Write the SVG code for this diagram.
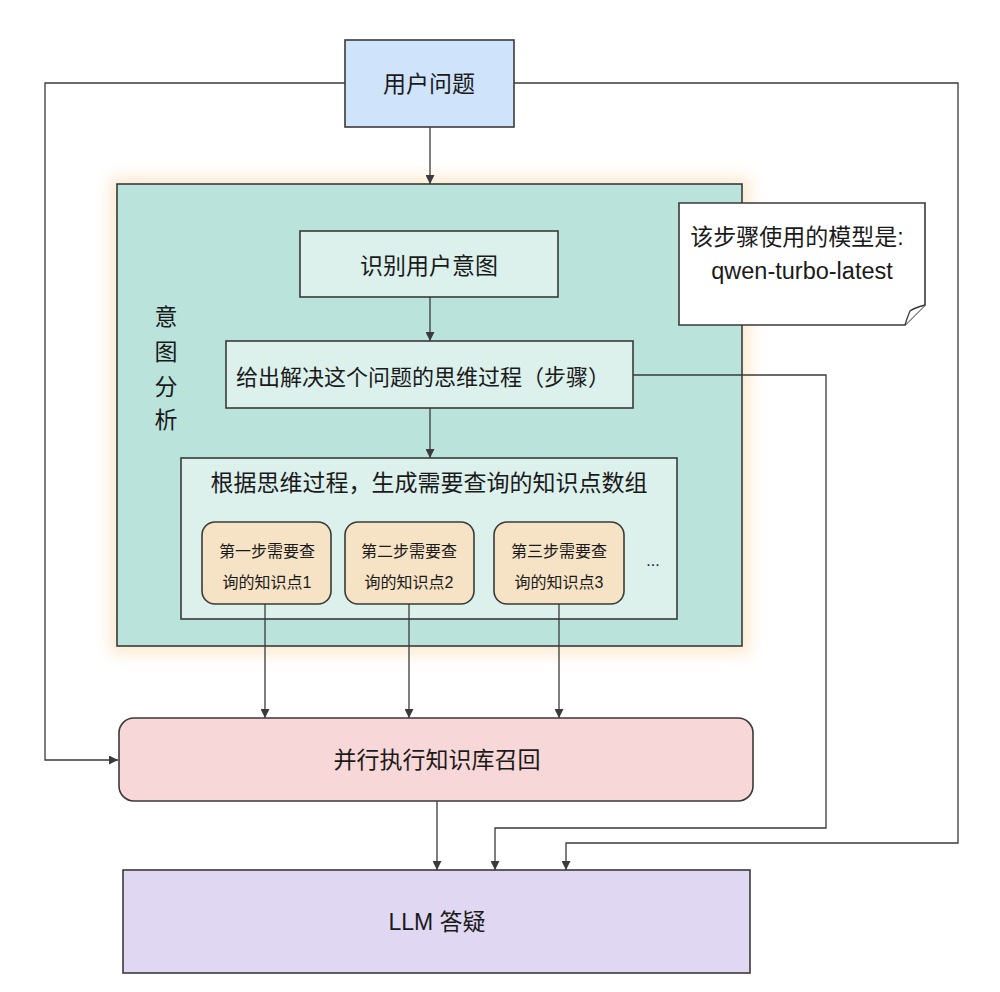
<svg xmlns="http://www.w3.org/2000/svg" width="1000" height="992" viewBox="0 0 1000 992">
<defs>
<style>
.box{stroke:#3a3a3a;stroke-width:1.6}
.t{font-family:"Liberation Sans","Noto Sans CJK SC",sans-serif;fill:#1a1a1a;text-anchor:middle;dominant-baseline:central}
.t23{font-size:23px}
.t16{font-size:16px}
.conn{fill:none;stroke:#3a3a3a;stroke-width:1.3}
</style>
<marker id="arr" viewBox="0 0 10 10" refX="10" refY="5" markerWidth="10" markerHeight="9" markerUnits="userSpaceOnUse" orient="auto">
<path d="M0,0 L10,5 L0,10 Z" fill="#3a3a3a"/>
</marker>
<filter id="glow" x="-10%" y="-10%" width="120%" height="120%">
<feGaussianBlur stdDeviation="8"/>
</filter>
</defs>
<rect width="1000" height="992" fill="#ffffff"/>

<g id="intent-group">
<rect x="110" y="177" width="640" height="477" fill="#fbe4c4" opacity="0.8" filter="url(#glow)"/>
<rect class="box" x="117" y="184" width="625" height="462" fill="#bae3dc"/>
<text class="t t23" x="166" y="317">意</text>
<text class="t t23" x="166" y="352">图</text>
<text class="t t23" x="166" y="387">分</text>
<text class="t t23" x="166" y="420">析</text>
</g>

<g id="user-question">
<rect class="box" x="345" y="40" width="169" height="87" fill="#cfe3fa"/>
<text class="t t23" x="429" y="84">用户问题</text>
</g>

<g id="identify-intent">
<rect class="box" x="300" y="231" width="258" height="66" fill="#dcf0ec"/>
<text class="t t23" x="429" y="266">识别用户意图</text>
</g>

<g id="thinking-steps">
<rect class="box" x="226" y="341" width="407" height="67" fill="#dcf0ec"/>
<text class="t" x="423" y="377" font-size="22">给出解决这个问题的思维过程（步骤）</text>
</g>

<g id="knowledge-array">
<rect class="box" x="181" y="458" width="496" height="161" fill="#dcf0ec"/>
<text class="t t23" x="429" y="483">根据思维过程，生成需要查询的知识点数组</text>
</g>

<g id="step1">
<rect class="box" x="202" y="522" width="129" height="82" rx="13" fill="#f6e2c4"/>
<text class="t t16" x="267" y="551">第一步需要查</text>
<text class="t t16" x="267" y="582">询的知识点1</text>
</g>
<g id="step2">
<rect class="box" x="345" y="522" width="129" height="82" rx="13" fill="#f6e2c4"/>
<text class="t t16" x="409" y="551">第二步需要查</text>
<text class="t t16" x="409" y="582">询的知识点2</text>
</g>
<g id="step3">
<rect class="box" x="494" y="522" width="130" height="82" rx="13" fill="#f6e2c4"/>
<text class="t t16" x="559" y="551">第三步需要查</text>
<text class="t t16" x="559" y="582">询的知识点3</text>
</g>
<g id="more">
<text class="t t16" x="653" y="560">...</text>
</g>

<g id="note">
<path class="box" d="M679,203 L925,203 L925,305 L905,325 L679,325 Z" fill="#ffffff"/>
<path d="M925,305 Q914,308 910,311 Q907,318 905,325" fill="#ffffff" stroke="#3a3a3a" stroke-width="1.3"/>
<text class="t" x="797" y="237" font-size="23">该步骤使用的模型是:</text>
<text class="t" x="802" y="271" font-size="23.5">qwen-turbo-latest</text>
</g>

<g id="parallel-recall">
<rect class="box" x="119" y="718" width="634" height="83" rx="15" fill="#f7d7d7"/>
<text class="t t23" x="437" y="760">并行执行知识库召回</text>
</g>

<g id="llm-answer">
<rect class="box" x="123" y="870" width="627" height="103" fill="#e0d8f3"/>
<text class="t t23" x="437" y="922">LLM 答疑</text>
</g>

<g id="connectors">
<path class="conn" d="M430,127 L430,184" marker-end="url(#arr)"/>
<path class="conn" d="M345,83 L45,83 L45,760 L118,760" marker-end="url(#arr)"/>
<path class="conn" d="M514,83 L958,83 L958,843 L566,843 L566,870" marker-end="url(#arr)"/>
<path class="conn" d="M430,297 L430,341" marker-end="url(#arr)"/>
<path class="conn" d="M430,408 L430,458" marker-end="url(#arr)"/>
<path class="conn" d="M633,375 L826,375 L826,828 L495,828 L495,870" marker-end="url(#arr)"/>
<path class="conn" d="M265,604 L265,718" marker-end="url(#arr)"/>
<path class="conn" d="M409,604 L409,718" marker-end="url(#arr)"/>
<path class="conn" d="M559,604 L559,718" marker-end="url(#arr)"/>
<path class="conn" d="M437,801 L437,870" marker-end="url(#arr)"/>
</g>
</svg>
